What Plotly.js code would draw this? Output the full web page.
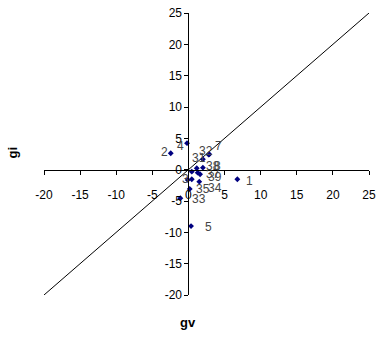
<!DOCTYPE html>
<html>
<head>
<meta charset="utf-8">
<script src="https://cdn.plot.ly/plotly-3.0.1.min.js"></script>
<style>
  html, body { margin: 0; padding: 0; background: #fff; }
  #chart { width: 378px; height: 342px; }
</style>
</head>
<body>
<div id="chart"></div>
<script>
// gv / gi values for each numbered case
const gv = [6.77, -2.45, -0.2, 0.36, 2.89, 2.8, 2.0, 1.15, 2.0, 0.46, 1.28, 1.61, -0.1, 0.46, 1.5, 0.18, -1.12];
const gi = [-1.53, 2.62, 4.23, -9.0, 2.46, 2.4, 1.66, 0.22, 0.32, -0.32, -0.48, -0.73, -1.64, -1.53, -1.91, -3.07, -4.56];
const caseIds = ["1", "2", "4", "5", "7", "32", "31", "38", "8", "", "37", "39", "3", "", "34", "35", "33"];

// label nudges in pixels (right, down)
const labelDx = [12, -6, -7, 17, 9, -3, -4, 16, 15, 0, 15, 15, -2, 0, 16, 13, 19];
const labelDy = [2, -1, 3, 1, -8, -4, -1, -2, -2, 0, 1, 3, -1, 0, 6, 0, 1];

// reference line gi = gv
const refX = [-20, 25];
const refY = [-20, 25];

// axis ranges and ticks
const xRange = [-20, 25];
const yRange = [-20, 25];
const xTicks = [-20, -15, -10, -5, 0, 5, 10, 15, 20, 25];
const yTicks = [-20, -15, -10, -5, 0, 5, 10, 15, 20, 25];

const fontFamily = "Liberation Sans, Arial, sans-serif";
const tickFont = { family: fontFamily, size: 12, color: "#000" };

const traces = [
  {
    x: refX, y: refY, mode: "lines", type: "scatter",
    line: { color: "#000", width: 1 }, hoverinfo: "skip"
  },
  {
    x: gv, y: gi, mode: "markers", type: "scatter",
    marker: { symbol: "diamond", size: 4.5, color: "#000080" }
  }
];

const annotations = gv.map((xv, i) => ({
  x: xv, y: gi[i], xref: "x", yref: "y",
  text: caseIds[i], showarrow: false,
  xanchor: "center", yanchor: "middle",
  xshift: labelDx[i], yshift: -labelDy[i],
  font: { family: fontFamily, size: 12, color: "#444" }
})).filter(a => a.text !== "");

annotations.push(
  { text: "<b>gv</b>", xref: "paper", yref: "paper", x: 0.443, y: -0.099,
    xanchor: "center", yanchor: "middle",
    showarrow: false, font: { family: fontFamily, size: 13, color: "#000" } },
  { text: "<b>gi</b>", xref: "paper", yref: "paper", x: -0.097, y: 0.507, textangle: -90,
    xanchor: "center", yanchor: "middle",
    showarrow: false, font: { family: fontFamily, size: 13, color: "#000" } }
);

const layout = {
  width: 378, height: 342,
  margin: { l: 44, r: 9, t: 13, b: 47 },
  paper_bgcolor: "#fff", plot_bgcolor: "#fff",
  showlegend: false,
  xaxis: {
    range: xRange, tickvals: xTicks, ticktext: xTicks.map(String),
    anchor: "free", position: (0 - yRange[0]) / (yRange[1] - yRange[0]),
    showline: true, linecolor: "#000", linewidth: 1,
    ticks: "outside", ticklen: 4, tickcolor: "#000", tickwidth: 1,
    ticklabelstandoff: 10,
    showgrid: false, zeroline: false, tickfont: tickFont
  },
  yaxis: {
    range: yRange, tickvals: yTicks, ticktext: yTicks.map(String),
    anchor: "free", position: (0 - xRange[0]) / (xRange[1] - xRange[0]), side: "left",
    showline: true, linecolor: "#000", linewidth: 1,
    ticks: "outside", ticklen: 4, tickcolor: "#000", tickwidth: 1,
    showgrid: false, zeroline: false, tickfont: tickFont
  },
  annotations: annotations
};

Plotly.newPlot("chart", traces, layout, { staticPlot: true, displayModeBar: false });
</script>
</body>
</html>
